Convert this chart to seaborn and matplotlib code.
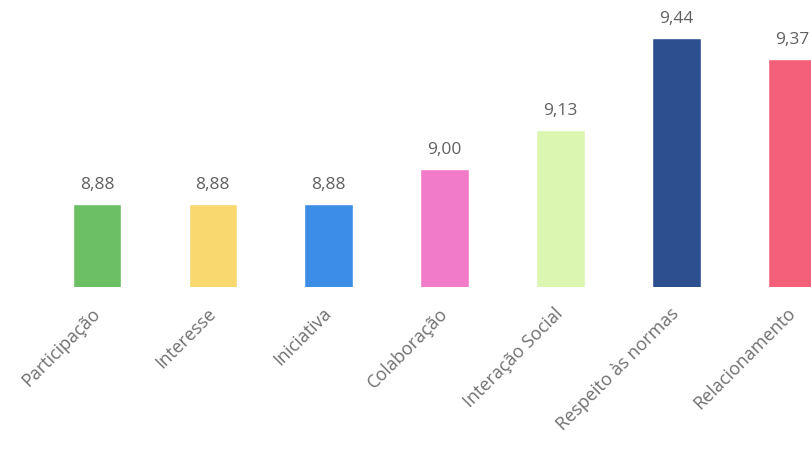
import pandas as pd
import matplotlib.pyplot as plt
import seaborn as sns

# dados do gráfico (média por critério)
categorias = ['Participação', 'Interesse', 'Iniciativa', 'Colaboração',
              'Interação Social', 'Respeito às normas', 'Relacionamento']
medias = [8.88, 8.88, 8.88, 9.00, 9.13, 9.44, 9.37]
cores = ['#6cbf62', '#f9d86e', '#3b8de6', '#f27bc9', '#daf6b0', '#2c4f8f', '#f4607a']

df = pd.DataFrame({'criterio': categorias, 'media': medias})

sns.set_style('white')
plt.rcParams['font.family'] = ['Open Sans', 'DejaVu Sans']

fig = plt.figure(figsize=(8.11, 4.49), dpi=100)
ax = fig.add_axes([39 / 811, 162 / 449, 772 / 811, 287 / 449])

sns.barplot(data=df, x='criterio', y='media', hue='criterio', palette=cores,
            legend=False, width=0.42, saturation=1, ax=ax)

ax.set_ylim(8.6, 9.57)
ax.set_xlim(-0.5, 6.16)
for c in ax.containers:
    ax.bar_label(c, labels=[f'{v:.2f}'.replace('.', ',') for v in c.datavalues],
                 padding=8, fontsize=12.5, color='#606060', clip_on=False)

ax.set_xlabel('')
ax.set_ylabel('')
ax.set_yticks([])
ax.tick_params(axis='x', length=0, pad=17)
plt.setp(ax.get_xticklabels(), rotation=45, ha='right', va='center',
         rotation_mode='anchor', fontsize=13, color='#707070')
sns.despine(ax=ax, left=True, bottom=True)

fig.savefig('out.png', dpi=100)
